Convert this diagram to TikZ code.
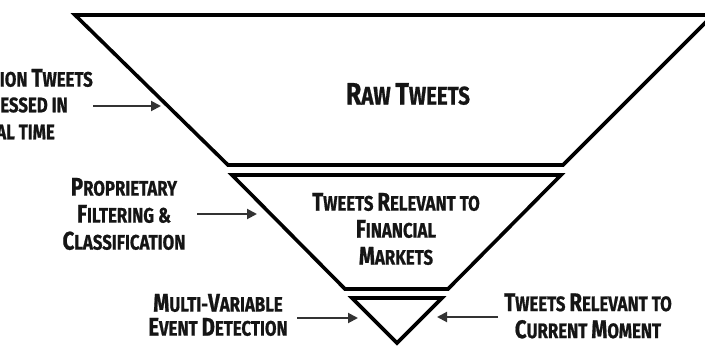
\documentclass[tikz,border=0pt]{standalone}
\usepackage{fontspec}
\setmainfont{Fira Sans}[FakeStretch=0.8, BoldFeatures={FakeBold=0.8}]
\usetikzlibrary{arrows.meta}
\definecolor{ink}{HTML}{151515}
\definecolor{arr}{HTML}{333333}
\newcommand\Cp[1]{{\fontsize{25.5}{27}\selectfont #1}}
\newcommand\Cq[1]{{\fontsize{31}{30}\selectfont #1}}
\begin{document}
\begin{tikzpicture}[x=1pt,y=-1pt,
  funnel/.style={line width=3.6pt, draw=black, line join=miter},
  lbl/.style={font=\fontsize{21}{27}\selectfont\bfseries, text=ink, align=center, inner sep=0pt},
  arrowline/.style={draw=arr, line width=2pt, -{Triangle[length=10pt,width=10pt]}}]
\useasboundingbox (0,0) rectangle (705,346);
% funnel stages
\draw[funnel] (75,15) -- (713,15) -- (563,165) -- (228,165) -- cycle;
\draw[funnel] (232,175) -- (561,175) -- (448,289) -- (345,289) -- cycle;
\draw[funnel] (352,298) -- (442,298) -- (397,343) -- cycle;
% stage labels
\node[lbl, font=\fontsize{25.5}{27}\selectfont\bfseries] (raw) at (408,94) {\Cq{R}AW \Cq{T}WEETS};
\node[lbl] (fin) at (396,229) {\Cp{T}WEETS \Cp{R}ELEVANT TO\\\Cp{F}INANCIAL\\\Cp{M}ARKETS};
% left labels
\node[lbl, anchor=east] (l1) at (93,78) {ION \Cp{T}WEETS};
\node[lbl, anchor=east] (l2) at (68,105) {ESSED IN};
\node[lbl, anchor=east] (l3) at (55,132) {AL TIME};
\node[lbl] (filt) at (124,214) {\Cp{P}ROPRIETARY\\\Cp{F}ILTERING \&\\\Cp{C}LASSIFICATION};
\node[lbl, font=\fontsize{21}{24}\selectfont\bfseries] (multi) at (218,315) {\Cp{M}ULTI-\Cp{V}ARIABLE\\\Cp{E}VENT \Cp{D}ETECTION};
\node[lbl] (cur) at (588,316) {\Cp{T}WEETS \Cp{R}ELEVANT TO\\\Cp{C}URRENT \Cp{M}OMENT};
% arrow ends
\coordinate (a1s) at (93,106);  \coordinate (a1e) at (161,106);
\coordinate (a2s) at (197,214); \coordinate (a2e) at (257,214);
\coordinate (a3s) at (297,318); \coordinate (a3e) at (358,318);
\coordinate (a4s) at (498,317); \coordinate (a4e) at (437,317);
\draw[arrowline] (a1s) -- (a1e);
\draw[arrowline] (a2s) -- (a2e);
\draw[arrowline] (a3s) -- (a3e);
\draw[arrowline] (a4s) -- (a4e);
\end{tikzpicture}
\end{document}
